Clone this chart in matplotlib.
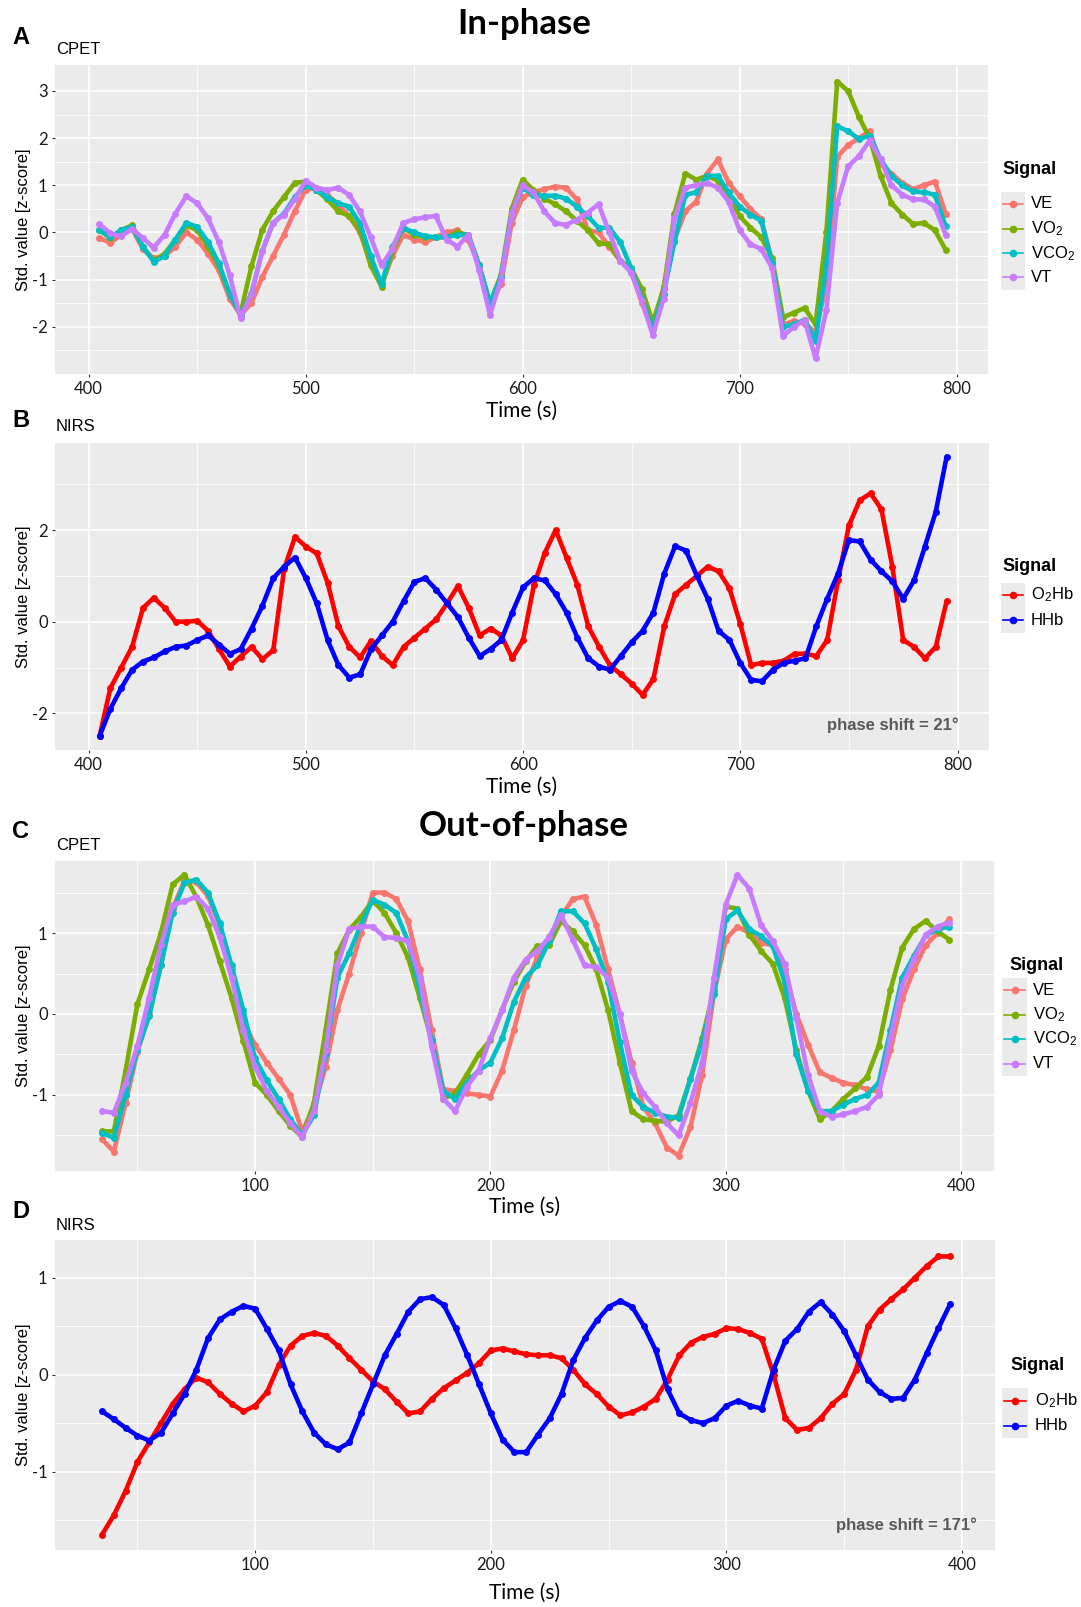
import numpy as np
import matplotlib
matplotlib.use("Agg")
import matplotlib.pyplot as plt
from matplotlib.lines import Line2D
from matplotlib.patches import Rectangle

plt.rcParams['axes.unicode_minus'] = False
plt.rcParams['mathtext.fontset'] = 'custom'
plt.rcParams['mathtext.rm'] = 'Liberation Sans'
plt.rcParams['mathtext.it'] = 'Liberation Sans:italic'
plt.rcParams['mathtext.bf'] = 'Liberation Sans:bold'

# ---------------- data ----------------
# Panel A (CPET, in-phase)
t_A = list(range(405, 800, 5))
VE_A = [-0.12, -0.22, -0.05, 0.08, -0.35, -0.55, -0.5, -0.3, 0.0, -0.15,
        -0.45, -0.8, -1.4, -1.75, -1.5, -0.95, -0.5, -0.05, 0.45, 0.9,
        0.95, 0.8, 0.6, 0.35, 0.0, -0.6, -1.1, -0.5, -0.05, -0.15,
        -0.2, -0.1, 0.0, 0.05, -0.15, -0.7, -1.55, -1.1, 0.2, 0.75,
        0.85, 0.92, 0.97, 0.95, 0.7, 0.05, 0.0, -0.3, -0.6, -0.82,
        -1.5, -2.05, -1.15, -0.15, 0.45, 0.65, 1.25, 1.55, 1.05, 0.77,
        0.5, 0.28, -0.6, -1.95, -1.88, -1.93, -2.12, -1.1, 1.6, 1.85,
        2.0, 2.15, 1.45, 1.25, 1.05, 0.92, 1.0, 1.08, 0.4]
VO2_A = [0.05, -0.12, 0.05, 0.15, -0.3, -0.6, -0.45, -0.15, 0.15, 0.05,
         -0.3, -0.7, -1.3, -1.72, -0.72, 0.05, 0.45, 0.75, 1.05, 1.08,
         0.9, 0.7, 0.45, 0.35, 0.05, -0.7, -1.15, -0.4, 0.1, -0.05,
         -0.1, -0.1, -0.1, 0.0, -0.05, -0.7, -1.5, -0.9, 0.5, 1.12,
         0.9, 0.72, 0.6, 0.45, 0.25, 0.05, -0.23, -0.25, -0.6, -0.75,
         -1.2, -1.9, -1.2, 0.4, 1.25, 1.12, 1.2, 1.1, 0.8, 0.35,
         0.1, -0.1, -0.55, -1.8, -1.7, -1.6, -1.95, 0.0, 3.2, 3.0,
         2.45, 2.0, 1.2, 0.62, 0.38, 0.18, 0.2, 0.05, -0.37]
VCO2_A = [0.05, -0.1, 0.05, 0.12, -0.3, -0.62, -0.5, -0.15, 0.2, 0.12,
          -0.2, -0.65, -1.3, -1.75, -1.3, -0.4, 0.2, 0.4, 0.75, 1.0,
          0.9, 0.75, 0.62, 0.55, 0.2, -0.5, -1.1, -0.3, 0.1, 0.0,
          -0.08, -0.1, -0.1, -0.05, -0.05, -0.7, -1.5, -0.95, 0.4, 0.95,
          0.8, 0.78, 0.78, 0.72, 0.55, 0.35, 0.1, 0.1, -0.2, -0.75,
          -1.4, -2.05, -1.3, -0.2, 0.8, 0.85, 1.2, 1.2, 0.85, 0.55,
          0.38, 0.25, -0.65, -2.0, -1.95, -1.85, -2.3, -0.7, 2.25, 2.15,
          1.98, 2.05, 1.55, 1.2, 1.0, 0.87, 0.85, 0.8, 0.13]
VT_A = [0.18, -0.02, -0.08, 0.08, -0.12, -0.32, -0.05, 0.4, 0.77, 0.62,
        0.3, -0.2, -0.9, -1.82, -1.3, -0.4, 0.2, 0.38, 0.7, 1.1,
        0.95, 0.9, 0.95, 0.8, 0.45, -0.1, -0.7, -0.35, 0.2, 0.28,
        0.32, 0.35, -0.15, -0.3, -0.05, -0.8, -1.75, -1.0, 0.4, 1.0,
        0.85, 0.45, 0.2, 0.16, 0.27, 0.42, 0.6, 0.0, -0.6, -0.85,
        -1.45, -2.18, -1.4, 0.3, 0.95, 1.0, 1.05, 0.95, 0.65, 0.05,
        -0.25, -0.35, -0.75, -2.2, -2.0, -1.86, -2.67, -1.65, 0.62, 1.4,
        1.62, 1.95, 1.55, 1.0, 0.8, 0.7, 0.7, 0.55, -0.05]

# Panel B (NIRS, in-phase)
t_B = list(range(405, 800, 5))
O2Hb_B = [-2.5, -1.45, -1.0, -0.55, 0.3, 0.52, 0.3, 0.0, 0.0, 0.02,
          -0.2, -0.6, -0.98, -0.76, -0.55, -0.82, -0.62, 1.15, 1.85, 1.64,
          1.49, 0.85, -0.1, -0.55, -0.78, -0.42, -0.75, -0.95, -0.55, -0.35,
          -0.15, 0.05, 0.4, 0.78, 0.3, -0.3, -0.15, -0.3, -0.8, -0.4,
          0.8, 1.5, 2.0, 1.4, 0.8, -0.1, -0.55, -0.95, -1.15, -1.35,
          -1.6, -1.25, -0.1, 0.6, 0.8, 1.0, 1.2, 1.1, 0.73, -0.05,
          -0.95, -0.9, -0.9, -0.85, -0.7, -0.7, -0.75, -0.4, 0.9, 2.1,
          2.65, 2.8, 2.45, 1.2, -0.4, -0.55, -0.8, -0.55, 0.45]
HHb_B = [-2.5, -1.9, -1.45, -1.05, -0.87, -0.78, -0.65, -0.55, -0.52, -0.4,
         -0.3, -0.5, -0.7, -0.6, -0.15, 0.35, 0.95, 1.2, 1.4, 0.95,
         0.4, -0.4, -0.95, -1.22, -1.15, -0.6, -0.3, 0.0, 0.45, 0.87,
         0.95, 0.7, 0.4, 0.1, -0.35, -0.75, -0.6, -0.4, 0.2, 0.75,
         0.95, 0.9, 0.6, 0.2, -0.35, -0.8, -0.98, -1.05, -0.75, -0.45,
         -0.2, 0.2, 1.05, 1.65, 1.55, 1.0, 0.5, -0.2, -0.4, -0.9,
         -1.27, -1.3, -1.05, -0.9, -0.85, -0.8, -0.1, 0.5, 1.05, 1.78,
         1.75, 1.35, 1.1, 0.88, 0.5, 0.9, 1.64, 2.4, 3.6]

# Panel C (CPET, out-of-phase)
t_C = list(range(35, 400, 5))
VE_C = [-1.55, -1.7, -1.1, -0.47, 0.0, 0.6, 1.3, 1.65, 1.63, 1.46,
        1.1, 0.55, -0.1, -0.38, -0.6, -0.8, -1.0, -1.45, -1.15, -0.65,
        0.05, 0.5, 1.0, 1.5, 1.5, 1.42, 1.15, 0.55, -0.2, -0.93,
        -0.95, -0.98, -1.0, -1.02, -0.7, -0.2, 0.35, 0.7, 0.95, 1.2,
        1.42, 1.45, 1.1, 0.55, 0.0, -0.6, -1.15, -1.35, -1.65, -1.75,
        -1.4, -0.75, 0.25, 0.92, 1.08, 1.0, 0.88, 0.85, 0.55, 0.0,
        -0.38, -0.72, -0.79, -0.85, -0.88, -0.93, -0.96, -0.45, 0.18, 0.55,
        0.85, 1.0, 1.17]
VO2_C = [-1.45, -1.45, -0.7, 0.12, 0.55, 1.0, 1.6, 1.72, 1.45, 1.1,
         0.65, 0.2, -0.33, -0.85, -1.0, -1.2, -1.38, -1.52, -1.1, -0.2,
         0.75, 1.04, 1.2, 1.4, 1.25, 1.0, 0.7, 0.2, -0.32, -1.05,
         -0.98, -0.75, -0.5, -0.32, 0.05, 0.4, 0.65, 0.84, 0.85, 1.15,
         1.02, 0.85, 0.55, 0.05, -0.6, -1.2, -1.3, -1.32, -1.33, -1.25,
         -0.8, -0.3, 0.3, 1.33, 1.3, 0.98, 0.78, 0.62, 0.2, -0.45,
         -0.95, -1.3, -1.2, -1.05, -0.92, -0.78, -0.4, 0.3, 0.82, 1.05,
         1.15, 1.02, 0.92]
VCO2_C = [-1.47, -1.53, -1.0, -0.45, -0.03, 0.6, 1.25, 1.62, 1.66, 1.5,
          1.12, 0.6, 0.05, -0.55, -0.82, -1.05, -1.3, -1.5, -1.25, -0.5,
          0.45, 0.75, 1.1, 1.41, 1.35, 1.25, 0.9, 0.3, -0.32, -0.95,
          -1.05, -0.85, -0.7, -0.6, -0.3, 0.15, 0.45, 0.6, 0.9, 1.27,
          1.27, 1.12, 0.8, 0.4, -0.35, -1.0, -1.15, -1.22, -1.27, -1.28,
          -0.8, -0.35, 0.25, 1.17, 1.28, 1.05, 0.96, 0.84, 0.4, -0.5,
          -0.95, -1.2, -1.2, -1.12, -1.05, -1.0, -0.85, -0.2, 0.45, 0.72,
          0.97, 1.05, 1.08]
VT_C = [-1.2, -1.22, -0.85, -0.4, 0.2, 0.85, 1.35, 1.39, 1.45, 1.3,
        0.95, 0.45, -0.2, -0.65, -0.95, -1.15, -1.35, -1.52, -1.2, -0.45,
        0.6, 1.05, 1.08, 1.08, 0.95, 0.94, 0.9, 0.45, -0.4, -1.05,
        -1.2, -0.9, -0.7, -0.3, 0.05, 0.45, 0.67, 0.78, 0.95, 1.22,
        0.92, 0.6, 0.58, 0.45, 0.0, -0.7, -0.98, -1.15, -1.35, -1.5,
        -1.1, -0.6, 0.45, 1.35, 1.72, 1.55, 1.1, 0.9, 0.62, -0.05,
        -0.75, -1.2, -1.27, -1.24, -1.2, -1.15, -1.0, -0.3, 0.35, 0.68,
        0.98, 1.08, 1.13]

# Panel D (NIRS, out-of-phase)
t_D = list(range(35, 400, 5))
O2Hb_D = [-1.65, -1.45, -1.2, -0.9, -0.7, -0.5, -0.3, -0.15, -0.03, -0.08,
          -0.2, -0.3, -0.38, -0.32, -0.18, 0.1, 0.3, 0.4, 0.43, 0.4,
          0.3, 0.17, 0.05, -0.07, -0.15, -0.28, -0.4, -0.38, -0.25, -0.14,
          -0.06, 0.02, 0.12, 0.25, 0.27, 0.24, 0.21, 0.2, 0.2, 0.17,
          0.05, -0.1, -0.2, -0.33, -0.42, -0.39, -0.33, -0.25, -0.05, 0.2,
          0.33, 0.39, 0.42, 0.48, 0.47, 0.43, 0.37, 0.0, -0.45, -0.57,
          -0.55, -0.45, -0.3, -0.2, 0.05, 0.5, 0.67, 0.78, 0.88, 1.0,
          1.12, 1.22, 1.22]
HHb_D = [-0.38, -0.46, -0.55, -0.63, -0.68, -0.6, -0.4, -0.2, 0.05, 0.38,
         0.57, 0.65, 0.71, 0.68, 0.47, 0.25, -0.1, -0.38, -0.6, -0.72,
         -0.77, -0.7, -0.4, -0.1, 0.2, 0.42, 0.65, 0.78, 0.8, 0.72,
         0.48, 0.2, -0.1, -0.4, -0.67, -0.8, -0.8, -0.62, -0.45, -0.2,
         0.15, 0.38, 0.56, 0.7, 0.76, 0.7, 0.5, 0.25, -0.15, -0.4,
         -0.47, -0.5, -0.45, -0.32, -0.27, -0.32, -0.35, 0.05, 0.35, 0.47,
         0.65, 0.75, 0.62, 0.45, 0.2, -0.05, -0.18, -0.25, -0.24, -0.05,
         0.22, 0.48, 0.73]

cpet_labels = ['VE', r'VO$_\mathregular{2}$', r'VCO$_\mathregular{2}$', 'VT']
cpet_colors = ['#F8766D', '#7CAE00', '#00BFC4', '#C77CFF']
nirs_labels = [r'O$_\mathregular{2}$Hb', 'HHb']
nirs_colors = ['#FF0000', '#0000FF']

# ---------------- figure ----------------
W, H = 1081, 1607
fig = plt.figure(figsize=(W / 100, H / 100), dpi=100)


def P(x, y):
    return (x / W, 1 - y / H)


def add_panel(l, r, top, bot):
    return fig.add_axes([l / W, 1 - bot / H, (r - l) / W, (bot - top) / H])


TICKFONT = 'Lato'


def style(ax, xlim, ylim, xmaj, xmin, ymaj, ymin):
    ax.set_facecolor('#EBEBEB')
    ax.set_xlim(*xlim)
    ax.set_ylim(*ylim)
    ax.set_xticks(xmaj)
    ax.set_xticks(xmin, minor=True)
    ax.set_yticks(ymaj)
    ax.set_yticks(ymin, minor=True)
    ax.grid(which='major', color='white', lw=1.2)
    ax.grid(which='minor', color='white', lw=0.6)
    ax.set_axisbelow(True)
    for s in ax.spines.values():
        s.set_visible(False)
    ax.tick_params(which='major', length=2.3, width=0.8, color='#333333',
                   labelsize=12, pad=3, labelcolor='#1a1a1a')
    ax.tick_params(which='minor', length=0)
    for lab in ax.get_xticklabels() + ax.get_yticklabels():
        lab.set_fontfamily(TICKFONT)


def draw_series(ax, t, series, colors):
    for y, c in zip(series, colors):
        ax.plot(t, y, color=c, lw=3.3, solid_joinstyle='round',
                solid_capstyle='round', marker='o', ms=5.0, mew=0, zorder=3)


def legend(x_title, y_title, x_key0, x_key1, ys, labels, colors, x_lab):
    fig.text(*P(x_title, y_title), 'Signal', fontsize=13, fontweight='bold',
             family='Liberation Sans', ha='left', va='center')
    step = ys[1] - ys[0]
    fig.patches.append(Rectangle(P(x_key0, ys[-1] + step / 2),
                                 (x_key1 - x_key0) / W, (ys[-1] - ys[0] + step) / H,
                                 transform=fig.transFigure, facecolor='#EBEBEB',
                                 edgecolor='none', zorder=1))
    for y, lab, c in zip(ys, labels, colors):
        x0, yy = P(x_key0 + 2, y)
        x1, _ = P(x_key1 - 2, y)
        fig.lines.append(Line2D([x0, x1], [yy, yy], transform=fig.transFigure,
                                color=c, lw=1.2, zorder=2))
        xm, _ = P((x_key0 + x_key1) / 2, y)
        fig.lines.append(Line2D([xm], [yy], transform=fig.transFigure,
                                color=c, marker='o', ms=5.5, mew=0, zorder=3))
        fig.text(*P(x_lab, y), lab, fontsize=12, family='Liberation Sans',
                 ha='left', va='center')


def ylabel(top, bot):
    fig.text(*P(23.5, (top + bot) / 2), 'Std. value [z-score]', rotation=90,
             fontsize=12, family='Liberation Sans', ha='center', va='center')


def xlabel(l, r, y):
    fig.text(*P((l + r) / 2, y), 'Time (s)', fontsize=15, family='Lato',
             ha='center', va='center')


# Panel A
axA = add_panel(55, 988, 65, 374)
draw_series(axA, t_A, [VE_A, VO2_A, VCO2_A, VT_A], cpet_colors)
style(axA, (384.5, 814.5), (-3.0, 3.55), [400, 500, 600, 700, 800],
      [450, 550, 650, 750], [-2, -1, 0, 1, 2, 3], [-2.5, -1.5, -0.5, 0.5, 1.5, 2.5])
ylabel(65, 374)
xlabel(55, 988, 411)
legend(1002, 170, 1001, 1025, [204, 228.7, 253.3, 277.3], cpet_labels, cpet_colors, 1031)

# Panel B
axB = add_panel(55, 989, 442.5, 750)
draw_series(axB, t_B, [O2Hb_B, HHb_B], nirs_colors)
style(axB, (384.5, 814.5), (-2.8, 3.91), [400, 500, 600, 700, 800],
      [450, 550, 650, 750], [-2, 0, 2], [-1, 1, 3])
ylabel(442.5, 750)
xlabel(55, 989, 786.5)
legend(1002, 566.7, 1001, 1025, [595, 620], nirs_labels, nirs_colors, 1031)
fig.text(*P(959, 725), 'phase shift = 21°', fontsize=12, fontweight='bold',
         color='#595959', family='Liberation Sans', ha='right', va='center')

# Panel C
axC = add_panel(55, 994, 861, 1171)
draw_series(axC, t_C, [VE_C, VO2_C, VCO2_C, VT_C], cpet_colors)
style(axC, (15, 414), (-1.94, 1.89), [100, 200, 300, 400], [50, 150, 250, 350],
      [-1, 0, 1], [-1.5, -0.5, 0.5, 1.5])
ylabel(861, 1171)
xlabel(55, 994, 1207)
legend(1009, 965, 1002, 1027, [990, 1014.5, 1039, 1063.5], cpet_labels, cpet_colors, 1033)

# Panel D
axD = add_panel(55, 995, 1240, 1550)
draw_series(axD, t_D, [O2Hb_D, HHb_D], nirs_colors)
style(axD, (15, 414), (-1.81, 1.39), [100, 200, 300, 400], [50, 150, 250, 350],
      [-1, 0, 1], [-1.5, -0.5, 0.5])
ylabel(1240, 1550)
xlabel(55, 995, 1593)
legend(1010, 1365.7, 1002, 1028, [1400.7, 1425.7], nirs_labels, nirs_colors, 1035)
fig.text(*P(976.5, 1525), 'phase shift = 171°', fontsize=12, fontweight='bold',
         color='#595959', family='Liberation Sans', ha='right', va='center')

# Titles and panel letters
fig.text(*P(524, 24), 'In-phase', fontsize=25, fontweight='bold', family='Lato',
         ha='center', va='center')
fig.text(*P(524, 826), 'Out-of-phase', fontsize=25, fontweight='bold', family='Lato',
         ha='center', va='center')
for letter, y in [('A', 38), ('B', 420.5), ('C', 832), ('D', 1212)]:
    fig.text(*P(12, y), letter, fontsize=17, fontweight='bold',
             family='Liberation Sans', ha='left', va='center')
for name, y in [('CPET', 50), ('NIRS', 426.5), ('CPET', 845), ('NIRS', 1225)]:
    fig.text(*P(56, y), name, fontsize=12, family='Liberation Sans',
             ha='left', va='center')

fig.savefig('out.png', dpi=100, facecolor='white')
